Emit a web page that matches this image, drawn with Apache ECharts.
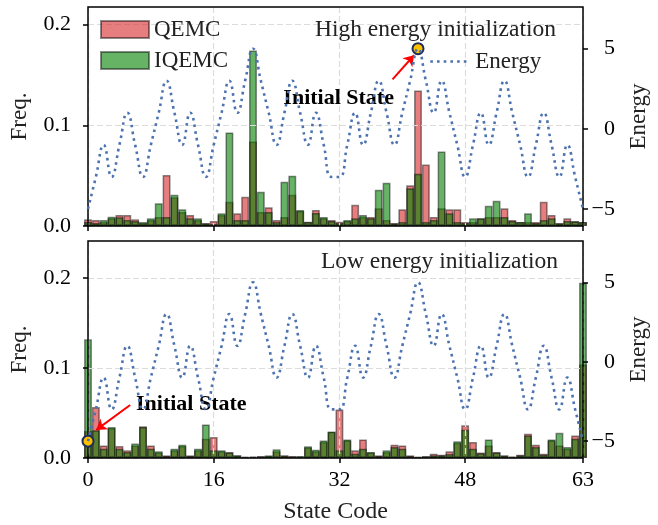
<!DOCTYPE html>
<html><head><meta charset="utf-8">
<script src="https://cdn.jsdelivr.net/npm/echarts@6/dist/echarts.min.js"></script>
<style>html,body{margin:0;padding:0;background:#fff}#c{width:658px;height:525px}</style>
</head><body><div id="c"></div>
<script>
// ---------- data ----------
const stateCodes = Array.from({length: 64}, (_, i) => i);
const energy = [-5,-3,-1,-3,-1,1,-1,-3,-1,1,3,1,-1,1,-1,-3,
                -1,1,3,1,3,5,3,1,-1,1,3,1,-1,1,-1,-3,
                -3,-1,1,-1,1,3,1,-1,1,3,5,3,1,3,1,-1,
                -3,-1,1,-1,1,3,1,-1,-3,-1,1,-1,-3,-1,-3,-5];
const qemcHigh = [0.0066,0.006,0.004,0.0076,0.011,0.011,0.0066,0.003,0.006,0.009,0.0507,0.0285,0.014,0.011,0.006,0.003,
                  0.005,0.011,0.024,0.0126,0.029,0.084,0.014,0.0186,0.006,0.009,0.031,0.015,0.0043,0.016,0.0076,0.006,
                  0.0043,0.005,0.021,0.009,0.009,0.0176,0.006,0.003,0.0166,0.0405,0.1347,0.061,0.009,0.0176,0.0166,0.0166,
                  0.004,0.004,0.0076,0.009,0.009,0.0176,0.006,0.004,0.004,0.004,0.024,0.011,0.003,0.0076,0.005,0.004];
const iqemcHigh = [0.004,0.003,0.006,0.0093,0.0086,0.006,0.005,0.004,0.0076,0.0226,0.009,0.031,0.0166,0.0076,0.0076,0.0025,
                   0.002,0.0126,0.093,0.006,0.006,0.1745,0.034,0.014,0.004,0.044,0.05,0.016,0.004,0.013,0.009,0.005,
                   0.003,0.006,0.0076,0.011,0.0076,0.036,0.043,0.0025,0.004,0.0375,0.052,0.004,0.006,0.074,0.0126,0.004,
                   0.003,0.0076,0.0076,0.02,0.025,0.009,0.005,0.004,0.0126,0.003,0.006,0.0076,0.0025,0.005,0.0045,0.004];
const qemcLow = [0.03,0.0567,0.014,0.0333,0.0133,0.0085,0.014,0.0352,0.014,0.006,0.003,0.0085,0.0133,0.003,0.0085,0.0215,
                 0.0233,0.0074,0.0067,0.003,0.001,0.001,0.0022,0.0022,0.0074,0.003,0.0022,0.0015,0.0118,0.0074,0.0178,0.029,
                 0.054,0.0196,0.0085,0.0207,0.006,0.003,0.0067,0.0148,0.014,0.003,0.001,0.0022,0.0048,0.0037,0.0074,0.017,
                 0.0363,0.0178,0.006,0.014,0.0067,0.003,0.001,0.0037,0.027,0.0148,0.0048,0.0196,0.014,0.0104,0.025,0.104];
const iqemcLow = [0.132,0.031,0.0104,0.0344,0.0104,0.0067,0.016,0.0344,0.0104,0.0074,0.0022,0.0104,0.0148,0.0022,0.0104,0.0374,
                  0.0085,0.0085,0.006,0.003,0.001,0.0015,0.0018,0.003,0.0096,0.0026,0.0018,0.0022,0.013,0.0093,0.0196,0.0296,
                  0.0085,0.0207,0.0048,0.0104,0.0067,0.0022,0.0085,0.0122,0.0104,0.0022,0.001,0.0018,0.003,0.003,0.0044,0.0185,
                  0.0315,0.0104,0.0052,0.0207,0.006,0.0026,0.0015,0.003,0.025,0.0122,0.0037,0.0207,0.028,0.0122,0.0215,0.195];
const xTicks = [0, 16, 32, 48, 63];
const freqTicks = [0, 0.1, 0.2];
const energyTicks = [-5, 0, 5];
const panelTitles = ['High energy initialization', 'Low energy initialization'];
const initialStates = [42, 0];
// annotation anchors in data units [state, energy]
const annText = [[31.9, 1.91], [13.15, -2.66]];
const annArrowFrom = [[38.76, 3.09], [5.37, -2.72]];
const annArrowTo = [[41.49, 4.59], [1.05, -4.29]];

// ---------- styling ----------
const FONT = 'Liberation Serif';
const RED = 'rgba(214,39,40,0.6)';
const GREEN = 'rgba(0,128,0,0.6)';
const EDGE = 'rgba(0,0,0,0.45)';
const BLUE = '#4C72B0';
const GL = 87, GR = 72;
const gridW = 658 - GL - GR;
const barW = gridW / 63;
const grids = [
  {left: GL, right: GR, top: 7, height: 219},
  {left: GL, right: GR, top: 241, height: 217}
];
const freqMax = [0.2176, 0.2414];
const eRange = [[-6.06, 7.6], [-6.06, 7.6]];
const titleRight = [97, 95];

const fmtE = v => v < 0 ? '\u2212' + Math.abs(v) : String(v);
const tickStyle = {show: true, inside: false, length: 5, lineStyle: {color: '#000', width: 1.5}};
const gridLine = {show: true, lineStyle: {color: '#dcdcdc', width: 1.2, type: [6, 3]}};

const xAxis = [], yAxis = [], series = [], title = [];
grids.forEach((g, p) => {
  xAxis.push({
    type: 'value', gridIndex: p, min: 0, max: 63, interval: 16, z: 3,
    axisLine: {show: false},
    axisTick: Object.assign({customValues: xTicks}, tickStyle),
    axisLabel: {show: p === 1, customValues: xTicks, fontSize: 22, color: '#000', margin: 11, fontFamily: FONT},
    splitLine: gridLine,
    name: p === 1 ? 'State Code' : '', nameLocation: 'middle', nameGap: 42,
    nameTextStyle: {fontSize: 24, color: '#222', fontFamily: FONT}
  });
  yAxis.push({
    type: 'value', gridIndex: p, min: 0, max: freqMax[p], interval: 0.1, z: 3,
    axisLine: {show: false},
    axisTick: Object.assign({customValues: freqTicks}, tickStyle),
    axisLabel: {customValues: freqTicks, formatter: v => v.toFixed(1), fontSize: 22, color: '#000', margin: 17, fontFamily: FONT},
    splitLine: gridLine,
    name: 'Freq.', nameLocation: 'middle', nameGap: 57,
    nameTextStyle: {fontSize: 23, color: '#222', fontFamily: FONT}
  });
  yAxis.push({
    type: 'value', gridIndex: p, position: 'right', min: eRange[p][0], max: eRange[p][1], z: 3,
    axisLine: {show: false},
    axisTick: Object.assign({customValues: energyTicks}, tickStyle),
    axisLabel: {customValues: energyTicks, formatter: fmtE, fontSize: 22, color: '#000', margin: 32, align: 'right', fontFamily: FONT},
    splitLine: {show: false},
    name: 'Energy', nameLocation: 'middle', nameGap: 44,
    nameTextStyle: {fontSize: 23, color: '#222', fontFamily: FONT}
  });
  const qv = p === 0 ? qemcHigh : qemcLow;
  const iv = p === 0 ? iqemcHigh : iqemcLow;
  series.push({
    name: 'QEMC', type: 'bar', xAxisIndex: p, yAxisIndex: 2 * p, barWidth: barW, barGap: '-100%', clip: true,
    itemStyle: {color: RED, borderColor: EDGE, borderWidth: 1.5},
    data: stateCodes.map((k, i) => [k, qv[i]]), z: 2
  });
  series.push({
    name: 'IQEMC', type: 'bar', xAxisIndex: p, yAxisIndex: 2 * p, barWidth: barW, barGap: '-100%', clip: true,
    itemStyle: {color: GREEN, borderColor: EDGE, borderWidth: 1.5},
    data: stateCodes.map((k, i) => [k, iv[i]]), z: 2
  });
  const s0 = initialStates[p];
  series.push({
    name: 'Energy', type: 'line', xAxisIndex: p, yAxisIndex: 2 * p + 1, smooth: 0.5, symbol: 'none', z: 5, clip: true,
    lineStyle: {color: BLUE, width: 2.6, type: [2.6, 4.1], cap: 'butt'},
    data: stateCodes.map((k, i) => [k, energy[i]]),
    markLine: {
      silent: true, symbol: ['none', 'arrow'], symbolSize: 10, animation: false,
      label: {show: false},
      lineStyle: {color: '#ff0000', width: 2, type: 'solid'},
      emphasis: {disabled: true},
      data: [[{coord: annArrowFrom[p]}, {coord: annArrowTo[p]}]]
    },
    markPoint: {
      silent: true, animation: false,
      data: [
        {coord: [s0, energy[stateCodes.indexOf(s0)]], symbol: 'circle', symbolSize: 11,
         itemStyle: {color: '#FFC000', borderColor: '#1F2F5A', borderWidth: 2}, label: {show: false}},
        {coord: annText[p], symbol: 'circle', symbolSize: 0,
         label: {show: true, position: 'inside', formatter: 'Initial State', fontSize: 22, fontWeight: 'bold', color: '#000', fontFamily: FONT}}
      ]
    }
  });
  title.push({
    text: panelTitles[p], right: titleRight[p], top: p === 0 ? 13 : 245,
    textStyle: {fontSize: 23.5, fontWeight: 'normal', color: '#222', fontFamily: FONT}
  });
});

const option = {
  animation: false,
  backgroundColor: '#fff',
  textStyle: {fontFamily: FONT},
  title: title,
  grid: grids.map(g => Object.assign({show: true, z: 4, borderColor: '#000', borderWidth: 1.5, backgroundColor: 'transparent'}, g)),
  legend: [
    {data: ['QEMC', 'IQEMC'], orient: 'vertical', left: 95, top: 13, itemWidth: 48, itemHeight: 17, itemGap: 8,
     icon: 'rect', selectedMode: false,
     textStyle: {fontSize: 23, color: '#222', fontFamily: FONT}},
    {data: ['Energy'], left: 424, top: 45, itemWidth: 40, itemHeight: 14, selectedMode: false,
     itemStyle: {opacity: 0},
     lineStyle: {color: BLUE, width: 2.6, type: [2.6, 4.1], opacity: 1},
     textStyle: {fontSize: 23, color: '#222', fontFamily: FONT}}
  ],
  xAxis: xAxis,
  yAxis: yAxis,
  series: series
};
const chart = echarts.init(document.getElementById('c'), null, {renderer: 'canvas'});
chart.setOption(option);
</script></body></html>
